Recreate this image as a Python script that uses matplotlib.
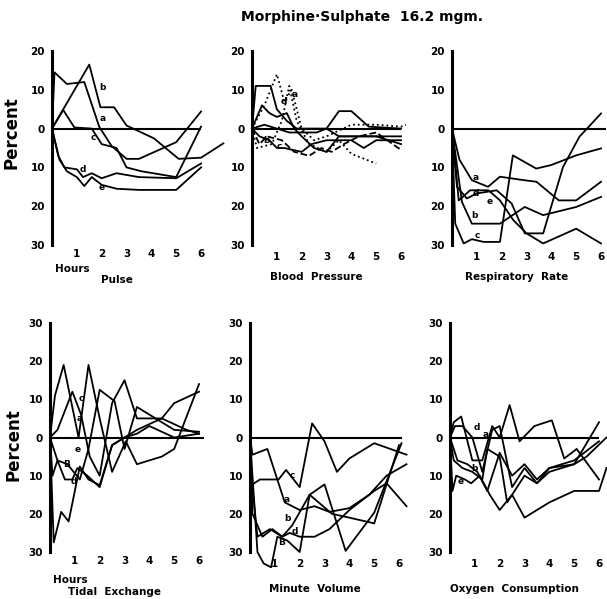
import matplotlib.pyplot as plt

# ---- data (hours after dose, percent change) ----
pulse_a_h = [0, 0.1, 0.6, 1.3, 1.9, 2.4, 3.0, 3.5, 5.0, 6.0]
pulse_a_v = [0, 14.5, 11.5, 12, 0.5, -4.5, -7.8, -7.8, -3.5, 4.4]
pulse_b_h = [0, 1.5, 1.95, 2.5, 3.0, 4.1, 5.1, 6.0, 6.9]
pulse_b_v = [0, 16.5, 5.5, 5.5, 0.8, -2.5, -7.8, -7.5, -3.8]
pulse_c_h = [0, 0.45, 0.9, 1.6, 2.0, 2.6, 3.0, 3.6, 5.0, 6.0]
pulse_c_v = [0, 4.8, 0.3, 0, -4, -5, -10, -11, -12.5, 0.5]
pulse_d_h = [0, 0.25, 0.5, 1.0, 1.25, 1.6, 2.0, 2.6, 3.5, 5.0, 6.0]
pulse_d_v = [0, -7, -10, -10.5, -12.5, -11.5, -12.8, -11.5, -12.5, -12.8, -9]
pulse_e_h = [0, 0.3, 0.6, 1.0, 1.3, 1.6, 2.0, 2.6, 3.5, 5.0, 6.0]
pulse_e_v = [0, -8, -11, -12.5, -14.8, -12.5, -14.5, -15.5, -15.8, -15.8, -10]

bp1_h = [0, 0.15, 0.75, 1.0, 1.4, 1.8, 2.5, 3.0, 3.5, 4.0, 4.7, 6.0]
bp1_v = [0, 11, 11, 5, 2, 0, 0, 0, 4.5, 4.5, 0.5, 0]
bp2_h = [0, 0.5, 1.0, 1.3, 1.6, 2.0, 2.5, 3.0, 4.0, 5.0, 6.0, 6.2]
bp2_v = [0, 6, 14, 7, 10, 0, -3, -2, 1, 1, 0.5, 1]
bp3_h = [0, 0.2, 0.8, 1.2, 1.5, 1.8, 2.3, 3.0, 3.5, 4.0, 5.0]
bp3_v = [0, -5, -4, 2, 11, 2, -4, -6, -3, -6.5, -9]
bp4_h = [0, 0.4, 0.7, 1.0, 1.4, 1.7, 2.0, 2.5, 3.0, 3.5, 4.0, 5.0, 6.0]
bp4_v = [0, 6, 4, 3, 4, 0, -2, -5, -6, -2, -2, -2, -4]
bp5_h = [0, 0.3, 0.7, 1.0, 1.3, 2.0, 2.4, 3.0, 4.0, 4.5, 5.0, 6.0]
bp5_v = [0, -2, -3, -5, -5, -6, -4, -3, -3, -5, -3, -3]
bp6_h = [0, 0.3, 0.6, 1.2, 1.7, 2.3, 2.8, 3.2, 3.7, 4.3, 5.0, 6.0]
bp6_v = [0, -4, -2, -3, -6, -7, -5, -6, -4, -2, -1, -5.5]
bp7_h = [0, 0.5, 1.0, 1.5, 2.0, 2.6, 3.0, 3.5, 4.0, 5.0, 6.0]
bp7_v = [0, 1, 0, -1, -1, -1, 0, -2, -2, -2, -2]

resp_a_h = [0, 0.3, 0.8, 1.45, 1.93, 2.9, 3.4, 4.3, 5.0, 6.0]
resp_a_v = [0, -8, -13.3, -15, -12.4, -13.3, -13.7, -18.5, -18.5, -13.7]
resp_b_h = [0, 0.27, 0.73, 1.47, 1.93, 2.47, 3.0, 3.67, 5.0, 6.0]
resp_b_v = [0, -18.5, -15.9, -15.9, -18.5, -23.6, -27, -29.6, -25.8, -29.6]
resp_c_h = [0, 0.13, 0.47, 0.8, 1.27, 1.93, 2.45, 3.39, 3.99, 5.0, 6.0]
resp_c_v = [0, -24.5, -29.6, -28.5, -29.2, -29.2, -6.9, -10.3, -9.4, -6.9, -5.1]
resp_d_h = [0, 0.2, 0.6, 1.0, 1.8, 2.4, 2.93, 3.67, 4.47, 5.13, 6.0]
resp_d_v = [0, -15, -18, -16.7, -15.9, -19.3, -27, -27, -9.9, -2.1, 3.9]
resp_e_h = [0, 0.4, 0.8, 1.93, 2.93, 3.67, 5.0, 6.0]
resp_e_v = [0, -18.9, -24.5, -24.5, -20.2, -22.3, -20.2, -17.6]

tidal_a_h = [0, 0.2, 0.55, 1.15, 1.55, 2.0, 2.5, 3.05, 3.5, 4.5, 5.0, 6.0]
tidal_a_v = [0, 11, 19, 0, 19, 5, -9, -1, -7, -5, -3, 14]
tidal_b_h = [0, 0.3, 0.9, 1.25, 1.6, 2.0, 2.5, 3.0, 3.5, 4.5, 5.5, 6.0]
tidal_b_v = [0, 2, 12, 6, -5, -10, 9, 15, 5, 5, 2, 1]
tidal_c_h = [0, 0.3, 0.7, 1.2, 1.55, 2.0, 2.6, 3.0, 3.5, 4.0, 5.0, 6.0]
tidal_c_v = [0, -6, -7, -11, -3, 12.5, 9.5, -3, 8, 6, 2, 1.5]
tidal_d_h = [0, 0.15, 0.45, 0.75, 1.2, 1.55, 2.0, 2.5, 3.0, 3.5, 4.5, 5.0, 6.0]
tidal_d_v = [0, -27.5, -19.5, -22, -7.6, -11, -12.5, -2, 0, 2, 5, 9, 12]
tidal_e_h = [0, 0.1, 0.3, 0.6, 0.9, 1.1, 1.5, 2.0, 2.5, 3.0, 3.5, 4.0, 5.0, 6.0]
tidal_e_v = [0, -10, -6, -11, -11, -8, -10, -13, -2, 0, 1, 3, 0, 1]

mv_a_h = [0, 0.1, 0.7, 1.4, 2.0, 2.6, 3.2, 4.0, 4.8, 5.5, 6.3]
mv_a_v = [0, -4.5, -3, -17, -19, -18, -19.5, -18.5, -15, -10, -7]
mv_b_h = [0, 0.3, 0.55, 0.85, 1.1, 1.5, 2.0, 2.4, 3.0, 3.85, 5.0, 6.1]
mv_b_v = [0, -30, -33, -34, -26, -27, -30, -15, -12.3, -29.7, -19.7, -1.5]
mv_c_h = [0, 0.05, 0.4, 1.15, 1.45, 2.0, 2.5, 3.0, 3.5, 4.0, 5.0, 6.3]
mv_c_v = [0, -12.5, -11, -11, -8.5, -13, 3.7, -1, -9, -5.5, -1.5, -4.5]
mv_d_h = [0, 0.05, 0.3, 0.8, 1.3, 1.6, 2.0, 2.6, 3.2, 4.0, 5.0, 5.5, 6.3]
mv_d_v = [0, -10, -26, -24, -26, -25, -26, -26, -24, -19, -14, -12, -18]
mv_e_h = [0, 0.1, 0.5, 0.9, 1.3, 1.7, 2.4, 3.3, 4.0, 5.0, 6.0]
mv_e_v = [0, -20, -26, -24, -26, -23, -15, -20, -21, -22.5, -2]

o2_a_h = [0, 0.15, 0.45, 0.9, 1.3, 1.7, 2.0, 2.4, 2.8, 3.4, 4.1, 4.6, 5.1, 6.0]
o2_a_v = [0, 4, 5.5, -6, -6, 3, 0, 8.5, -1, 3, 4.5, -5.5, -3, -11]
o2_b_h = [0, 0.15, 0.5, 0.9, 1.3, 1.5, 2.0, 2.3, 3.0, 3.5, 4.0, 5.0, 5.5, 6.3]
o2_b_v = [0, -6, -8, -9, -11, -3, -5, -17, -10, -12, -9, -7, -5, 0]
o2_c_h = [0, 0.1, 0.25, 0.6, 0.85, 1.2, 1.6, 2.0, 2.5, 3.0, 4.0, 5.0, 6.0, 6.3]
o2_c_v = [0, -14, -10, -11, -12, -10, -15, -19, -15, -21, -17, -14, -14, -8]
o2_d_h = [0, 0.2, 0.5, 0.9, 1.3, 1.7, 2.0, 2.5, 3.0, 3.5, 4.0, 5.0, 6.0]
o2_d_v = [0, 3, 3, 0, -9, 2, 3, -13, -8, -12, -8, -7, 4]
o2_e_h = [0, 0.1, 0.3, 0.7, 1.1, 1.5, 2.0, 2.5, 3.0, 3.5, 4.0, 5.0, 6.0]
o2_e_v = [0, -2, -6, -7, -9, -14, -4, -10, -7, -11, -8, -6, -1]

hour_ticks = [1, 2, 3, 4, 5, 6]
top_yticks = [20, 10, 0, -10, -20, -30]
bottom_yticks = [30, 20, 10, 0, -10, -20, -30]

W, H = 607, 599
fig = plt.figure(figsize=(W / 100, H / 100), dpi=100)
plt.rcParams['font.family'] = 'DejaVu Sans'


def px_axes(left, top, right, bottom):
    return fig.add_axes([left / W, 1 - bottom / H, (right - left) / W, (bottom - top) / H])


def setup(ax, yticks, title, zero_end, hours=False, tick_y=None):
    ax.set_xlim(0, 6.2)
    ax.set_ylim(min(yticks), max(yticks))
    for s in ['top', 'right', 'bottom']:
        ax.spines[s].set_visible(False)
    ax.spines['left'].set_linewidth(2.2)
    ax.set_yticks(yticks)
    ax.set_yticklabels([str(abs(t)) for t in yticks], fontsize=7.5, fontweight='bold')
    ax.set_xticks(hour_ticks)
    ax.set_xticklabels([str(t) for t in hour_ticks], fontsize=7.5, fontweight='bold')
    ax.tick_params(length=0, pad=5)
    ax.tick_params(axis='x', pad=tick_y)
    ax.hlines(0, 0, zero_end, color='black', lw=1.5)
    ax.patch.set_alpha(0)
    if hours:
        ax.text(0.02, -0.1, 'Hours', transform=ax.transAxes, fontsize=7.5,
                fontweight='bold', va='top')
    ax.text(0.42, -0.14 if not hours else -0.155, title, transform=ax.transAxes,
            fontsize=7.5, fontweight='bold', ha='center', va='top')


def draw(ax, series, style='-'):
    for h, v in series:
        ax.plot(h, v, color='black', lw=1.3, ls=style, clip_on=False)


def letters(ax, items):
    for txt, h, v in items:
        ax.text(h, v, txt, fontsize=6.5, fontweight='bold', ha='center', va='center')


# top row
ax1 = px_axes(52, 51, 206, 245)
setup(ax1, top_yticks, 'Pulse', 6.0, hours=True, tick_y=3)
draw(ax1, [(pulse_a_h, pulse_a_v), (pulse_b_h, pulse_b_v), (pulse_c_h, pulse_c_v),
           (pulse_d_h, pulse_d_v), (pulse_e_h, pulse_e_v)])
letters(ax1, [('b', 2.05, 10.5), ('a', 2.05, 2.5), ('c', 1.65, -2.3),
              ('d', 1.25, -10.5), ('e', 2.0, -15.2)])

ax2 = px_axes(252, 51, 406, 245)
setup(ax2, top_yticks, 'Blood  Pressure', 6.0, tick_y=5)
draw(ax2, [(bp1_h, bp1_v), (bp4_h, bp4_v), (bp5_h, bp5_v), (bp7_h, bp7_v)])
draw(ax2, [(bp2_h, bp2_v), (bp3_h, bp3_v)], style=':')
draw(ax2, [(bp6_h, bp6_v)], style='--')
letters(ax2, [('a', 1.73, 8.7), ('d', 1.27, 7), ('c', 1.1, -4.5), ('b', 0.6, -3)])

ax3 = px_axes(452, 51, 606, 245)
setup(ax3, top_yticks, 'Respiratory  Rate', 6.2, tick_y=5)
draw(ax3, [(resp_a_h, resp_a_v), (resp_b_h, resp_b_v), (resp_c_h, resp_c_v),
           (resp_d_h, resp_d_v), (resp_e_h, resp_e_v)])
letters(ax3, [('a', 0.95, -12.5), ('d', 0.95, -16.7), ('e', 1.5, -18.9),
              ('b', 0.9, -22.3), ('c', 1.0, -27.5)])

# bottom row
ax4 = px_axes(50, 323, 204, 552)
setup(ax4, bottom_yticks, 'Tidal  Exchange', 6.2, hours=True, tick_y=3)
draw(ax4, [(tidal_a_h, tidal_a_v), (tidal_b_h, tidal_b_v), (tidal_c_h, tidal_c_v),
           (tidal_d_h, tidal_d_v), (tidal_e_h, tidal_e_v)])
letters(ax4, [('c', 1.25, 10.2), ('a', 1.2, 5.1), ('e', 1.1, -3.2),
              ('B', 0.67, -7.2), ('d', 0.94, -11.6)])

ax5 = px_axes(250, 323, 404, 552)
setup(ax5, bottom_yticks, 'Minute  Volume', 6.1, tick_y=5)
draw(ax5, [(mv_a_h, mv_a_v), (mv_b_h, mv_b_v), (mv_c_h, mv_c_v),
           (mv_d_h, mv_d_v), (mv_e_h, mv_e_v)])
letters(ax5, [('c', 1.69, -10), ('a', 1.49, -16.3), ('b', 1.49, -21.1),
              ('d', 1.82, -24.5), ('B', 1.28, -27.6)])

ax6 = px_axes(450, 323, 604, 552)
setup(ax6, bottom_yticks, 'Oxygen  Consumption', 6.0, tick_y=5)
draw(ax6, [(o2_a_h, o2_a_v), (o2_b_h, o2_b_v), (o2_c_h, o2_c_v),
           (o2_d_h, o2_d_v), (o2_e_h, o2_e_v)])
letters(ax6, [('d', 1.09, 2.7), ('a', 1.45, 0.8), ('e', 0.45, -11.5), ('b', 1.0, -8)])

fig.text(12 / W, 1 - 133 / H, 'Percent', rotation=90, fontsize=12,
         fontweight='bold', ha='center', va='center')
fig.text(14 / W, 1 - 445 / H, 'Percent', rotation=90, fontsize=12,
         fontweight='bold', ha='center', va='center')
fig.text(362 / W, 1 - 17 / H, 'Morphine·Sulphate  16.2 mgm.', fontsize=10,
         fontweight='bold', ha='center', va='center')

fig.savefig('out.png', dpi=100)
